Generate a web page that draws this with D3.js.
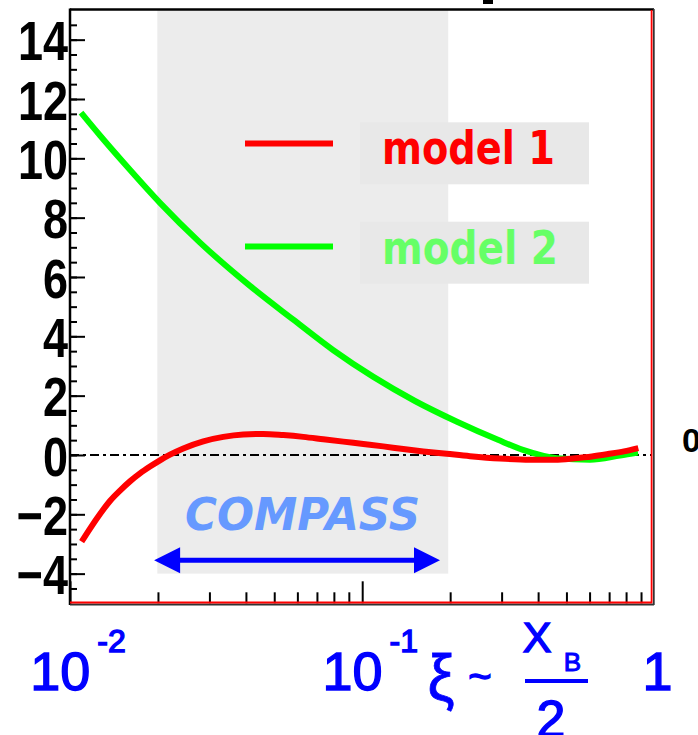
<!DOCTYPE html>
<html>
<head>
<meta charset="utf-8">
<script src="https://cdn.jsdelivr.net/npm/d3@7"></script>
<style>
  html, body { margin: 0; padding: 0; background: #fff; }
  svg { display: block; }
</style>
</head>
<body>
<svg id="chart" width="698" height="735"></svg>
<script>
// ---- data -------------------------------------------------------------
// model 1 (red curve): xi values and function values
const xiModel1 = [0.01096, 0.01171, 0.01267, 0.01370, 0.01483, 0.01604, 0.01736, 0.01878,
  0.02032, 0.02199, 0.02442, 0.02859, 0.03347, 0.03918, 0.04586, 0.05370, 0.06286,
  0.07361, 0.08615, 0.1009, 0.1181, 0.1382, 0.1619, 0.1946, 0.2338, 0.2962, 0.3752,
  0.4569, 0.5350, 0.6115, 0.6937, 0.7870, 0.8810];
const valModel1 = [-2.92, -2.48, -1.99, -1.55, -1.20, -0.89, -0.62, -0.39,
  -0.18, 0.01, 0.22, 0.46, 0.61, 0.69, 0.71, 0.67, 0.61,
  0.53, 0.45, 0.37, 0.29, 0.20, 0.12, 0.04, -0.04, -0.12, -0.16,
  -0.16, -0.11, -0.05, 0.03, 0.12, 0.23];

// model 2 (green curve)
const xiModel2 = [0.01091, 0.01267, 0.01543, 0.02032, 0.02786, 0.04130, 0.05797, 0.07945,
  0.1089, 0.1516, 0.2111, 0.2915, 0.3550, 0.4642, 0.6020, 0.7626, 0.8789];
const valModel2 = [11.54, 10.77, 9.80, 8.50, 7.16, 5.70, 4.57, 3.54,
  2.64, 1.82, 1.12, 0.51, 0.17, -0.11, -0.16, -0.02, 0.08];

// axis ticks
const yMajorTicks = [-4, -2, 0, 2, 4, 6, 8, 10, 12, 14];
const yMinorTicks = d3.range(-4.5, 14.51, 0.5);
const xDecadeTicks = [0.01, 0.1];
const xMinorTicks = [0.02, 0.03, 0.04, 0.05, 0.06, 0.07, 0.08, 0.09,
                     0.2, 0.3, 0.4, 0.5, 0.6, 0.7, 0.8, 0.9];
const xLabelValues = [0.01, 0.1, 1];
const xLabelBase = ["10", "10", "1"];
const xLabelExp = ["-2", "-1", ""];

// COMPASS kinematic range (xi) and the band it shades
const compassBand = [0.0199, 0.197];
const compassBandY = [-4, 15];
const compassArrow = [0.0194, 0.1846];
const compassArrowY = -3.55;

const legendNames = ["model 1", "model 2"];
const colors = { m1: "#ff0000", m2: "#00ff00", m2text: "#66ff66" };

// ---- scales -----------------------------------------------------------
const svg = d3.select("#chart");
const x = d3.scaleLog().domain([0.01, 1]).range([70, 654.4]);
const y = d3.scaleLinear().domain([-5, 15]).range([603.3, 10]);

svg.append("rect").attr("width", 698).attr("height", 735).attr("fill", "#fff");

// shaded COMPASS band
svg.append("rect")
  .attr("x", x(compassBand[0]))
  .attr("y", y(compassBandY[1]))
  .attr("width", x(compassBand[1]) - x(compassBand[0]))
  .attr("height", y(compassBandY[0]) - y(compassBandY[1]))
  .attr("fill", "#ececec");

// zero line (dash-dot)
svg.append("line")
  .attr("x1", x(0.01)).attr("x2", 651)
  .attr("y1", y(0)).attr("y2", y(0))
  .attr("stroke", "#000").attr("stroke-width", 2.2)
  .attr("stroke-dasharray", "9,4,3,4");

// curves
const line = d3.line()
  .x(d => x(d[0])).y(d => y(d[1]))
  .curve(d3.curveMonotoneX);

svg.append("path")
  .datum(xiModel2.map((v, i) => [v, valModel2[i]]))
  .attr("d", line).attr("fill", "none")
  .attr("stroke", colors.m2).attr("stroke-width", 6);

svg.append("path")
  .datum(xiModel1.map((v, i) => [v, valModel1[i]]))
  .attr("d", line).attr("fill", "none")
  .attr("stroke", colors.m1).attr("stroke-width", 6);

// COMPASS label and double arrow
svg.append("text")
  .attr("x", 185).attr("y", 530)
  .attr("textLength", 235).attr("lengthAdjust", "spacingAndGlyphs")
  .attr("font-family", "DejaVu Sans").attr("font-weight", "bold")
  .attr("font-style", "oblique").attr("font-size", 45)
  .attr("fill", "#6699ff").text("COMPASS");

const ax0 = x(compassArrow[0]), ax1 = x(compassArrow[1]), ay = y(compassArrowY);
svg.append("line")
  .attr("x1", ax0 + 20).attr("x2", ax1 - 20)
  .attr("y1", ay).attr("y2", ay)
  .attr("stroke", "#0000ff").attr("stroke-width", 5);
svg.append("path")
  .attr("d", `M${ax0},${ay} L${ax0 + 26},${ay - 13} L${ax0 + 26},${ay + 13} Z`)
  .attr("fill", "#0000ff");
svg.append("path")
  .attr("d", `M${ax1},${ay} L${ax1 - 26},${ay - 13} L${ax1 - 26},${ay + 13} Z`)
  .attr("fill", "#0000ff");

// legend
const legend = svg.append("g");
const legendRows = [
  { name: legendNames[0], line: colors.m1, text: colors.m1, cy: 143.5, box: 122.3, len: 173 },
  { name: legendNames[1], line: colors.m2, text: colors.m2text, cy: 246.5, box: 221.7, len: 176 }
];
legendRows.forEach(r => {
  legend.append("line")
    .attr("x1", 245).attr("x2", 333).attr("y1", r.cy).attr("y2", r.cy)
    .attr("stroke", r.line).attr("stroke-width", 6);
  legend.append("rect")
    .attr("x", 360).attr("y", r.box).attr("width", 229).attr("height", 62)
    .attr("fill", "#e8e8e8");
  legend.append("text")
    .attr("x", 382).attr("y", r.box + 42)
    .attr("textLength", r.len).attr("lengthAdjust", "spacingAndGlyphs")
    .attr("font-family", "DejaVu Sans").attr("font-weight", "bold")
    .attr("font-size", 46).attr("fill", r.text).text(r.name);
});

// ---- axes -------------------------------------------------------------
// y axis: ticks point into the frame
const yMinor = svg.append("g").attr("transform", "translate(70,0)")
  .call(d3.axisLeft(y).tickValues(yMinorTicks).tickSizeInner(-7).tickSizeOuter(0).tickFormat(""));
const yMajor = svg.append("g").attr("transform", "translate(70,0)")
  .call(d3.axisLeft(y).tickValues(yMajorTicks).tickSizeInner(-15).tickSizeOuter(0).tickPadding(2));
[yMinor, yMajor].forEach(g => {
  g.select(".domain").remove();
  g.selectAll("line").attr("stroke", "#000").attr("stroke-width", 2);
});
yMajor.selectAll("text")
  .attr("font-family", "Liberation Sans, Arial, sans-serif")
  .attr("font-weight", "bold").attr("font-size", 45).attr("fill", "#000")
  .attr("dy", "0.36em")
  .attr("transform", "scale(1,1.24)");

// x axis: minor and decade ticks
const xMinor = svg.append("g").attr("transform", `translate(0,${y(-5)})`)
  .call(d3.axisBottom(x).tickValues(xMinorTicks).tickSizeInner(-11).tickSizeOuter(0).tickFormat(""));
const xMajor = svg.append("g").attr("transform", `translate(0,${y(-5)})`)
  .call(d3.axisBottom(x).tickValues(xDecadeTicks).tickSizeInner(-22).tickSizeOuter(0).tickFormat(""));
[xMinor, xMajor].forEach(g => {
  g.select(".domain").remove();
  g.selectAll("line").attr("stroke", "#000").attr("stroke-width", 2);
});

// blue lettering below the x axis: slightly heavier than regular weight
const blueText = sel => sel
  .attr("font-family", "Liberation Sans, Arial, sans-serif")
  .attr("fill", "#0000ff").attr("stroke", "#0000ff").attr("stroke-width", 1.4);

// decade labels with superscripts
xLabelValues.forEach((v, i) => {
  const t = svg.append("text")
    .attr("x", x(v) + (xLabelExp[i] ? 8 : 3)).attr("y", 690)
    .attr("text-anchor", "middle")
    .attr("font-size", 54)
    .call(blueText);
  t.append("tspan").text(xLabelBase[i]);
  if (xLabelExp[i]) {
    t.append("tspan").attr("dx", 7).attr("dy", -38).attr("font-size", 32).text(xLabelExp[i]);
  }
});

// axis title: xi ~ x_B / 2
const title = svg.append("g");
title.append("text").attr("x", 441).attr("y", 700).attr("text-anchor", "middle")
  .attr("font-size", 64).attr("textLength", 27).attr("lengthAdjust", "spacingAndGlyphs")
  .call(blueText).attr("stroke-width", 0.8).text("ξ");
title.append("text").attr("x", 480).attr("y", 690).attr("text-anchor", "middle")
  .attr("font-size", 40).call(blueText).text("~");
title.append("text").attr("x", 537).attr("y", 652).attr("text-anchor", "middle")
  .attr("font-size", 43).call(blueText).text("X");
title.append("text").attr("x", 572.5).attr("y", 671).attr("text-anchor", "middle")
  .attr("font-size", 26).call(blueText).attr("stroke-width", 1).text("B");
title.append("line").attr("x1", 525).attr("x2", 588).attr("y1", 681).attr("y2", 681)
  .attr("stroke", "#0000ff").attr("stroke-width", 4);
title.append("text").attr("x", 551).attr("y", 737).attr("text-anchor", "middle")
  .attr("font-size", 52).call(blueText).text("2");

// ---- frame ------------------------------------------------------------
svg.append("line").attr("x1", 70).attr("x2", 654).attr("y1", 9.5).attr("y2", 9.5)
  .attr("stroke", "#000").attr("stroke-width", 2.5);
svg.append("line").attr("x1", 70).attr("x2", 70).attr("y1", 8.5).attr("y2", 605)
  .attr("stroke", "#000").attr("stroke-width", 2.5);
svg.append("line").attr("x1", 70).attr("x2", 654).attr("y1", 604.5).attr("y2", 604.5)
  .attr("stroke", "#333").attr("stroke-width", 2);
svg.append("line").attr("x1", 70).attr("x2", 652).attr("y1", 602.5).attr("y2", 602.5)
  .attr("stroke", "#ff0000").attr("stroke-width", 2);
svg.append("line").attr("x1", 653.8).attr("x2", 653.8).attr("y1", 9).attr("y2", 605)
  .attr("stroke", "#333").attr("stroke-width", 1.8);
svg.append("line").attr("x1", 651.6).attr("x2", 651.6).attr("y1", 10).attr("y2", 603)
  .attr("stroke", "#ff0000").attr("stroke-width", 1.8);

// stray glyphs from neighbouring panels at the edges
svg.append("text").attr("x", 682).attr("y", 452)
  .attr("font-family", "Liberation Sans, Arial, sans-serif").attr("font-weight", "bold")
  .attr("font-size", 34).attr("fill", "#000").text("0");
svg.append("rect").attr("x", 483).attr("y", 0).attr("width", 10).attr("height", 4).attr("fill", "#000");
</script>
</body>
</html>
